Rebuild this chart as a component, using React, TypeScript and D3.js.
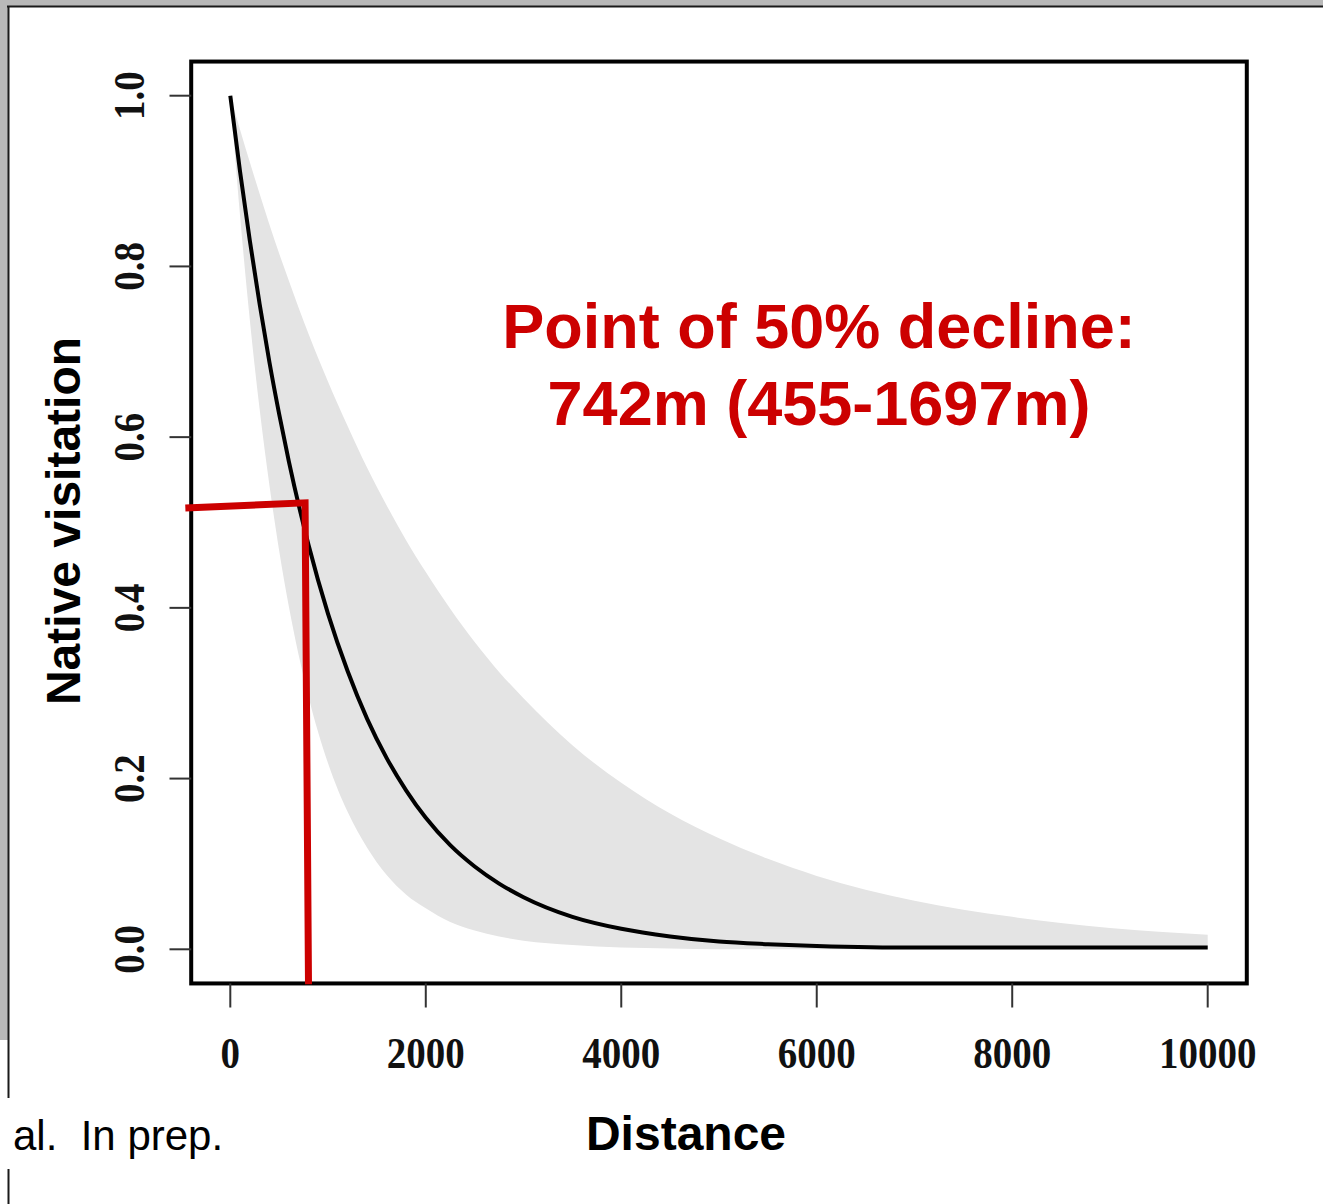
import { useEffect, useRef } from "react";
import * as d3 from "d3";

// distance (m) at which the fitted curve and its band were read
const distances = [0, 100, 200, 300, 400, 500, 600, 800, 1000, 1200, 1400, 1600, 1800, 2000, 2250, 2500, 2750, 3000, 3500, 4000, 4500, 5000, 5500, 6000, 7000, 8000, 9000, 10000];
// fitted native visitation
const fitted = [1.0, 0.911, 0.83, 0.756, 0.688, 0.627, 0.571, 0.474, 0.393, 0.326, 0.27, 0.224, 0.186, 0.154, 0.122, 0.097, 0.077, 0.061, 0.038, 0.024, 0.015, 0.009, 0.006, 0.004, 0.002, 0.002, 0.002, 0.002];
// grey confidence band
const upper = [1.0, 0.96, 0.922, 0.885, 0.849, 0.815, 0.783, 0.721, 0.665, 0.613, 0.564, 0.52, 0.479, 0.442, 0.399, 0.36, 0.325, 0.294, 0.239, 0.195, 0.159, 0.13, 0.106, 0.086, 0.057, 0.038, 0.025, 0.017];
const lower = [1.0, 0.859, 0.737, 0.633, 0.544, 0.467, 0.401, 0.296, 0.218, 0.161, 0.119, 0.087, 0.064, 0.048, 0.032, 0.022, 0.015, 0.01, 0.005, 0.002, 0.001, 0, 0, 0, 0, 0, 0, 0];

const xTicks = [0, 2000, 4000, 6000, 8000, 10000];
const yTicks = [0, 0.2, 0.4, 0.6, 0.8, 1.0];
const yTickLabels = ["0.0", "0.2", "0.4", "0.6", "0.8", "1.0"];

// hand-drawn red marker of the 50% point (distance, visitation)
const markerD = [-460, 765, 800];
const markerV = [0.517, 0.523, -0.041];

const W = 1323;
const H = 1204;
const RED = "#cc0000";
const SANS = "'Liberation Sans', Arial, sans-serif";
const SERIF = "'Liberation Serif', 'Times New Roman', serif";

export default function App() {
  const svgRef = useRef(null);

  useEffect(() => {
    document.body.style.margin = "0";
    const svg = d3.select(svgRef.current);
    svg.selectAll("*").remove();

    const x = d3.scaleLinear().domain([0, 10000]).range([230.3, 1207.7]);
    const y = d3.scaleLinear().domain([0, 1]).range([949.3, 95.7]);

    svg.append("rect").attr("width", W).attr("height", H).attr("fill", "#fff");

    // slide frame
    svg.append("rect").attr("x", 0).attr("y", 0).attr("width", W).attr("height", 6).attr("fill", "#b8b8b8");
    svg.append("rect").attr("x", 0).attr("y", 0).attr("width", 8).attr("height", 1040).attr("fill", "#b8b8b8");
    svg.append("line").attr("x1", 7).attr("x2", W).attr("y1", 6.5).attr("y2", 6.5)
      .attr("stroke", "#1a1a1a").attr("stroke-width", 2);
    svg.append("line").attr("x1", 8.5).attr("x2", 8.5).attr("y1", 6).attr("y2", H)
      .attr("stroke", "#1a1a1a").attr("stroke-width", 2);

    const rows = distances.map((d, i) => ({ d, m: fitted[i], lo: lower[i], hi: upper[i] }));

    const area = d3.area()
      .x(r => x(r.d))
      .y0(r => y(r.lo))
      .y1(r => y(r.hi))
      .curve(d3.curveMonotoneX);
    svg.append("path").datum(rows).attr("d", area).attr("fill", "#e4e4e4");

    const line = d3.line()
      .x(r => x(r.d))
      .y(r => y(r.m))
      .curve(d3.curveMonotoneX);
    svg.append("path").datum(rows).attr("d", line)
      .attr("fill", "none").attr("stroke", "#000").attr("stroke-width", 4);

    // plot box (R style, 4% padding)
    const x0 = x(-400), x1 = x(10400), yTop = y(1.04), yBot = y(-0.04);
    svg.append("rect")
      .attr("x", x0).attr("y", yTop)
      .attr("width", x1 - x0).attr("height", yBot - yTop)
      .attr("fill", "none").attr("stroke", "#000").attr("stroke-width", 4);

    // axes
    const gx = svg.append("g");
    xTicks.forEach(t => {
      gx.append("line").attr("x1", x(t)).attr("x2", x(t)).attr("y1", yBot).attr("y2", 1007.5)
        .attr("stroke", "#333").attr("stroke-width", 2);
      gx.append("text")
        .attr("transform", `translate(${x(t)},1068) scale(1,1.12)`)
        .attr("text-anchor", "middle")
        .attr("font-family", SERIF).attr("font-weight", "bold").attr("font-size", 39)
        .attr("fill", "#111")
        .text(String(t));
    });

    const gy = svg.append("g");
    yTicks.forEach((t, i) => {
      gy.append("line").attr("x1", 169.5).attr("x2", x0).attr("y1", y(t)).attr("y2", y(t))
        .attr("stroke", "#333").attr("stroke-width", 2);
      gy.append("text")
        .attr("transform", `translate(144,${y(t)}) rotate(-90) scale(1,1.12)`)
        .attr("text-anchor", "middle")
        .attr("font-family", SERIF).attr("font-weight", "bold").attr("font-size", 39)
        .attr("fill", "#111")
        .text(yTickLabels[i]);
    });

    // red 50% marker
    const marker = d3.line().x((d, i) => x(d)).y((d, i) => y(markerV[i]));
    svg.append("path").attr("d", marker(markerD))
      .attr("fill", "none").attr("stroke", RED).attr("stroke-width", 7)
      .attr("stroke-linejoin", "miter");

    svg.append("text")
      .attr("x", 819).attr("y", 348)
      .attr("text-anchor", "middle")
      .attr("font-family", SANS).attr("font-weight", "bold").attr("font-size", 63)
      .attr("fill", RED)
      .text("Point of 50% decline:");
    svg.append("text")
      .attr("x", 819).attr("y", 425)
      .attr("text-anchor", "middle")
      .attr("font-family", SANS).attr("font-weight", "bold").attr("font-size", 63)
      .attr("fill", RED)
      .text("742m (455-1697m)");

    // axis titles on the slide
    svg.append("text")
      .attr("transform", "translate(80,521) rotate(-90)")
      .attr("text-anchor", "middle")
      .attr("font-family", SANS).attr("font-weight", "bold").attr("font-size", 48)
      .attr("fill", "#000")
      .text("Native visitation");

    svg.append("rect").attr("x", 565).attr("y", 1098).attr("width", 240).attr("height", 72).attr("fill", "#fff");
    svg.append("text")
      .attr("x", 686).attr("y", 1150)
      .attr("text-anchor", "middle")
      .attr("font-family", SANS).attr("font-weight", "bold").attr("font-size", 48)
      .attr("fill", "#000")
      .text("Distance");

    svg.append("rect").attr("x", 0).attr("y", 1098).attr("width", 245).attr("height", 71).attr("fill", "#fff");
    svg.append("text")
      .attr("x", 13).attr("y", 1150)
      .attr("font-family", SANS).attr("font-size", 42)
      .attr("fill", "#000")
      .style("white-space", "pre")
      .text("al.  In prep.");
  }, []);

  return <svg ref={svgRef} width={W} height={H} style={{ display: "block" }} />;
}
